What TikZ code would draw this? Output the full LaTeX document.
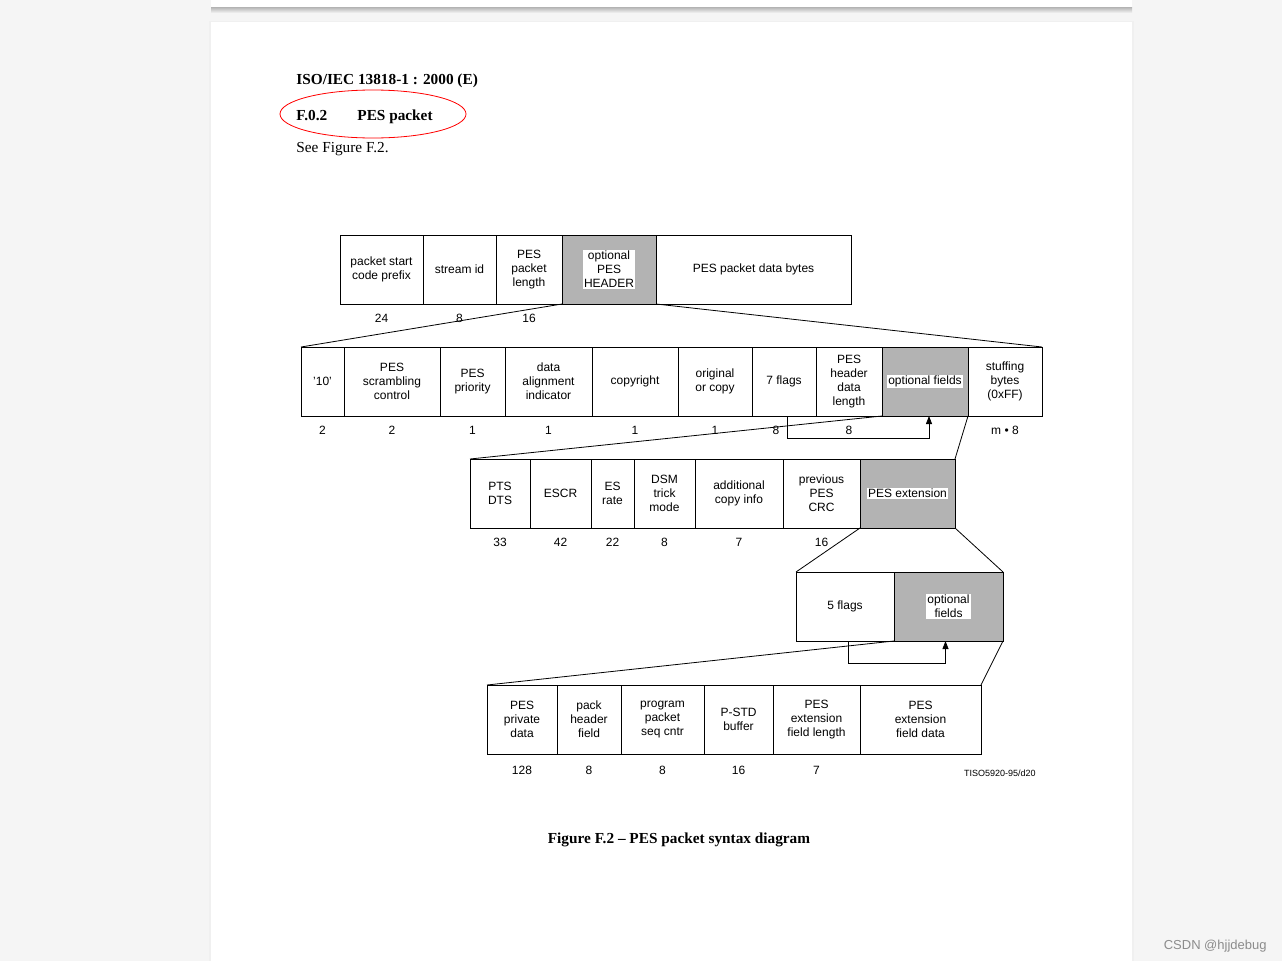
\documentclass[tikz,border=0pt]{standalone}
\usepackage{fontspec}
\setmainfont{Liberation Serif}
\setsansfont{Liberation Sans}
\usepackage{tikz}
\usetikzlibrary{arrows.meta, positioning}
\definecolor{boxgray}{RGB}{179,179,179}
\definecolor{pagebg}{RGB}{245,245,245}
\newcommand{\cellfont}{\sffamily\fontsize{12}{14}\selectfont}
\newcommand{\docfont}{\fontsize{15.3}{18}\selectfont}
\tikzset{cell/.style={draw, line width=0.8pt, minimum height=69pt, inner sep=1pt, outer sep=0pt, align=center, font=\cellfont},
  optcell/.style={cell, fill=boxgray},
  wbox/.style={fill=white, inner sep=1pt, align=center, font=\cellfont},
  bits/.style={label={[font=\cellfont, inner sep=0pt, yshift=-10pt]below:#1}},
  lowbits/.style={label={[font=\cellfont, inner sep=0pt, yshift=-12pt]below:#1}},
  txt/.style={anchor=base west, inner sep=0pt}}

\begin{document}
\begin{tikzpicture}[x=1pt, y=-1pt, line width=0.8pt]
% pages
\fill[pagebg] (0,0) rectangle (1282,961);
\fill[white] (211,0) rectangle (1132,7);
\shade[top color=black!30, bottom color=pagebg] (211,7) rectangle (1132,13);
\fill[black!6] (209,21) rectangle (1134,961);
\fill[white] (211,22) rectangle (1132,961);

% heading
\node[txt, font=\docfont\bfseries] (std) at (296,84) {ISO/IEC 13818-1 : 2000 (E)};
\node[txt, font=\docfont\bfseries] (secnum) at (296,120) {F.0.2};
\node[txt, font=\docfont\bfseries] (sectitle) at (357,120) {PES packet};
\draw[red] (373,114) ellipse [x radius=93pt, y radius=24pt];
\node[txt, font=\docfont] (seefig) at (296,152) {See Figure F.2.};

% PES packet
\node[cell, minimum width=83pt, anchor=north west, bits=24] (pscp) at (340,235) {packet start\\code prefix};
\node[cell, minimum width=73pt, right=0pt of pscp, bits=8] (sid) {stream id};
\node[cell, minimum width=66pt, right=0pt of sid, bits=16] (pesl) {PES\\packet\\length};
\node[optcell, minimum width=94pt, right=0pt of pesl, label={[wbox]center:{optional\\PES\\HEADER}}] (hdr) {};
\node[cell, minimum width=195pt, right=0pt of hdr] (data) {PES packet data bytes};

% optional PES header
\node[cell, minimum width=43pt, anchor=north west, bits=2] (f10) at (301,347) {'10'};
\node[cell, minimum width=96pt, right=0pt of f10, bits=2] (scr) {PES\\scrambling\\control};
\node[cell, minimum width=65pt, right=0pt of scr, bits=1] (pri) {PES\\priority};
\node[cell, minimum width=87pt, right=0pt of pri, bits=1] (dai) {data\\alignment\\indicator};
\node[cell, minimum width=86pt, right=0pt of dai, bits=1] (cpy) {copyright};
\node[cell, minimum width=74pt, right=0pt of cpy, bits=1] (orig) {original\\or copy};
\node[cell, minimum width=64pt, right=0pt of orig, label={[font=\cellfont, inner sep=0pt, yshift=-10pt, xshift=-8pt]below:8}] (flg) {7 flags};
\node[cell, minimum width=66pt, right=0pt of flg, bits=8] (hdl) {PES\\header\\data\\length};
\node[optcell, minimum width=86pt, right=0pt of hdl, label={[wbox]center:optional fields}] (optf) {};
\node[cell, minimum width=74pt, right=0pt of optf, bits={m \textbullet{} 8}] (stuf) {stuffing\\bytes\\(0xFF)};

\draw (hdr.south west) -- (f10.north west);
\draw (hdr.south east) -- (stuf.north east);
\draw[-{Triangle[length=8pt, width=6pt]}] ([xshift=3pt]flg.south) -- ++(0,22) -| ([xshift=4pt]optf.south);

% optional fields
\node[cell, minimum width=60pt, anchor=north west, bits=33] (pts) at (470,459) {PTS\\DTS};
\node[cell, minimum width=61pt, right=0pt of pts, bits=42] (escr) {ESCR};
\node[cell, minimum width=43pt, right=0pt of escr, bits=22] (esr) {ES\\rate};
\node[cell, minimum width=61pt, right=0pt of esr, bits=8] (dsm) {DSM\\trick\\mode};
\node[cell, minimum width=88pt, right=0pt of dsm, bits=7] (aci) {additional\\copy info};
\node[cell, minimum width=77pt, right=0pt of aci, bits=16] (crc) {previous\\PES\\CRC};
\node[optcell, minimum width=95pt, right=0pt of crc, label={[wbox]center:PES extension}] (ext) {};

\draw (optf.south west) -- (pts.north west);
\draw (optf.south east) -- (ext.north east);

% PES extension
\node[cell, minimum width=98pt, anchor=north west] (flg5) at (796,572) {5 flags};
\node[optcell, minimum width=109pt, right=0pt of flg5, label={[wbox]center:{optional\\fields}}] (opt5) {};

\draw (ext.south west) -- (flg5.north west);
\draw (ext.south east) -- (opt5.north east);
\draw[-{Triangle[length=8pt, width=6pt]}] ([xshift=3pt]flg5.south) -- ++(0,22) -| ([xshift=-3pt]opt5.south);

% optional extension fields
\node[cell, minimum width=70pt, anchor=north west, lowbits=128] (priv) at (487,685) {PES\\private\\data};
\node[cell, minimum width=64pt, right=0pt of priv, lowbits=8] (pack) {pack\\header\\field};
\node[cell, minimum width=83pt, right=0pt of pack, lowbits=8] (prog) {program\\packet\\seq cntr};
\node[cell, minimum width=69pt, right=0pt of prog, lowbits=16] (pstd) {P-STD\\buffer};
\node[cell, minimum width=87pt, right=0pt of pstd, lowbits=7] (extl) {PES\\extension\\field length};
\node[cell, minimum width=121pt, right=0pt of extl] (extd) {PES\\extension\\field data};

\draw (opt5.south west) -- (priv.north west);
\draw (opt5.south east) -- (extd.north east);

\node[anchor=base east, inner sep=0pt, font=\sffamily\fontsize{9}{10}\selectfont] (tiso) at (1036,776) {TISO5920-95/d20};
\node[font=\docfont\bfseries] (caption) at (679,840) {Figure F.2 – PES packet syntax diagram};
\node[anchor=base east, inner sep=0pt, font=\sffamily\fontsize{13}{15}\selectfont, text=black!45] (mark) at (1267,949) {CSDN @hjjdebug};
\end{tikzpicture}
\end{document}
